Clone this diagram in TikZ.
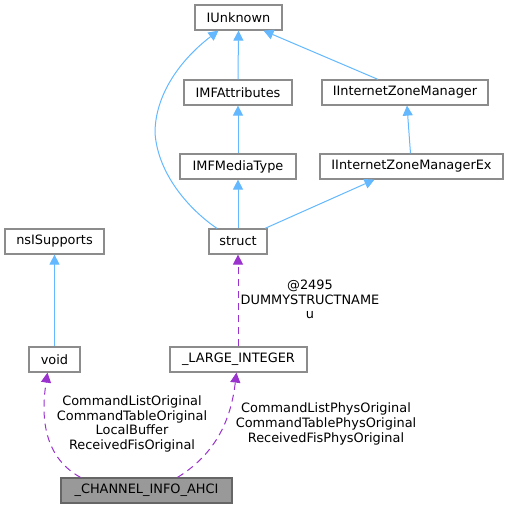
\documentclass[tikz,border=0pt]{standalone}
\usepackage{fontspec}
\setmainfont{DejaVu Sans}
\usetikzlibrary{arrows.meta}
\definecolor{eblue}{HTML}{63B8FF}
\definecolor{epurple}{HTML}{9A32CD}
\definecolor{nborder}{HTML}{8C8C8C}
\definecolor{mainfill}{HTML}{999999}
\definecolor{mainborder}{HTML}{666666}
\begin{document}
\begin{tikzpicture}[x=1pt,y=-1pt,
  box/.style={draw=nborder, line width=1.2pt, fill=white, minimum height=25pt, inner sep=0pt,
    font=\fontsize{12.9}{14.6}\selectfont},
  mainbox/.style={box, draw=mainborder, fill=mainfill},
  inh/.style={draw=eblue, line width=1pt, -{Triangle[length=10pt,width=10pt]}},
  usage/.style={draw=epurple, line width=1pt, dash pattern=on 7pt off 5pt, -{Triangle[length=10pt,width=10pt]}},
  lbl/.style={align=center, inner sep=0pt, font=\fontsize{12.9}{14.6}\selectfont}]
\useasboundingbox (0,0) rectangle (509,509);
% nodes
\node[box, minimum width=87pt] (iunk) at (238.5,17.5) {IUnknown};
\node[box, minimum width=108pt] (imfa) at (238,92.5) {IMFAttributes};
\node[box, minimum width=166pt] (izm) at (405,92.5) {IInternetZoneManager};
\node[box, minimum width=116pt] (imfm) at (238,166.5) {IMFMediaType};
\node[box, minimum width=183pt] (izmx) at (411.5,166.5) {IInternetZoneManagerEx};
\node[box, minimum width=58pt] (struct) at (238,241.5) {struct};
\node[box, minimum width=99pt] (nsis) at (54.5,241.5) {nsISupports};
\node[box, minimum width=51pt] (void) at (54.5,359.5) {void};
\node[box, minimum width=137pt] (lint) at (238.5,359.5) {\_LARGE\_INTEGER};
\node[mainbox, minimum width=171pt] (chan) at (146.5,490.5) {\_CHANNEL\_INFO\_AHCI};
% inheritance edges
\draw[inh] (imfa.north) -- (iunk.south);
\draw[inh] (imfm.north) -- (imfa.south);
\draw[inh] (struct.north) -- (imfm.south);
\draw[inh] ([xshift=-27pt]izm.north) -- ([xshift=25pt]iunk.south);
\draw[inh] ([xshift=-1pt]izmx.north) -- ([xshift=2pt]izm.south);
\draw[inh] ([xshift=27pt]struct.north) -- ([xshift=-37pt]izmx.south);
\coordinate (cm) at (155,133);
\draw[inh] ([xshift=-21pt]struct.north) .. controls (190,210) and (158,175) .. (cm)
  .. controls (155,95) and (180,60) .. ([xshift=-20pt]iunk.south);
\draw[inh] (void.north) -- (nsis.south);
% usage edges
\draw[usage] (lint.north -| struct.south) -- (struct.south);
\draw[usage] ([xshift=-66pt]chan.north) .. controls (40,455) and (42,410) .. ([xshift=-7pt]void.south);
\draw[usage] ([xshift=31pt]chan.north) .. controls (222,450) and (232,410) .. ([xshift=-2pt]lint.south);
% labels
\node[lbl] (l1) at (310,299.5) {@2495\\DUMMYSTRUCTNAME\\u};
\node[lbl] (l2) at (132,424) {CommandListOriginal\\CommandTableOriginal\\LocalBuffer\\ReceivedFisOriginal};
\node[lbl] (l3) at (326,424) {CommandListPhysOriginal\\CommandTablePhysOriginal\\ReceivedFisPhysOriginal};
\end{tikzpicture}
\end{document}
